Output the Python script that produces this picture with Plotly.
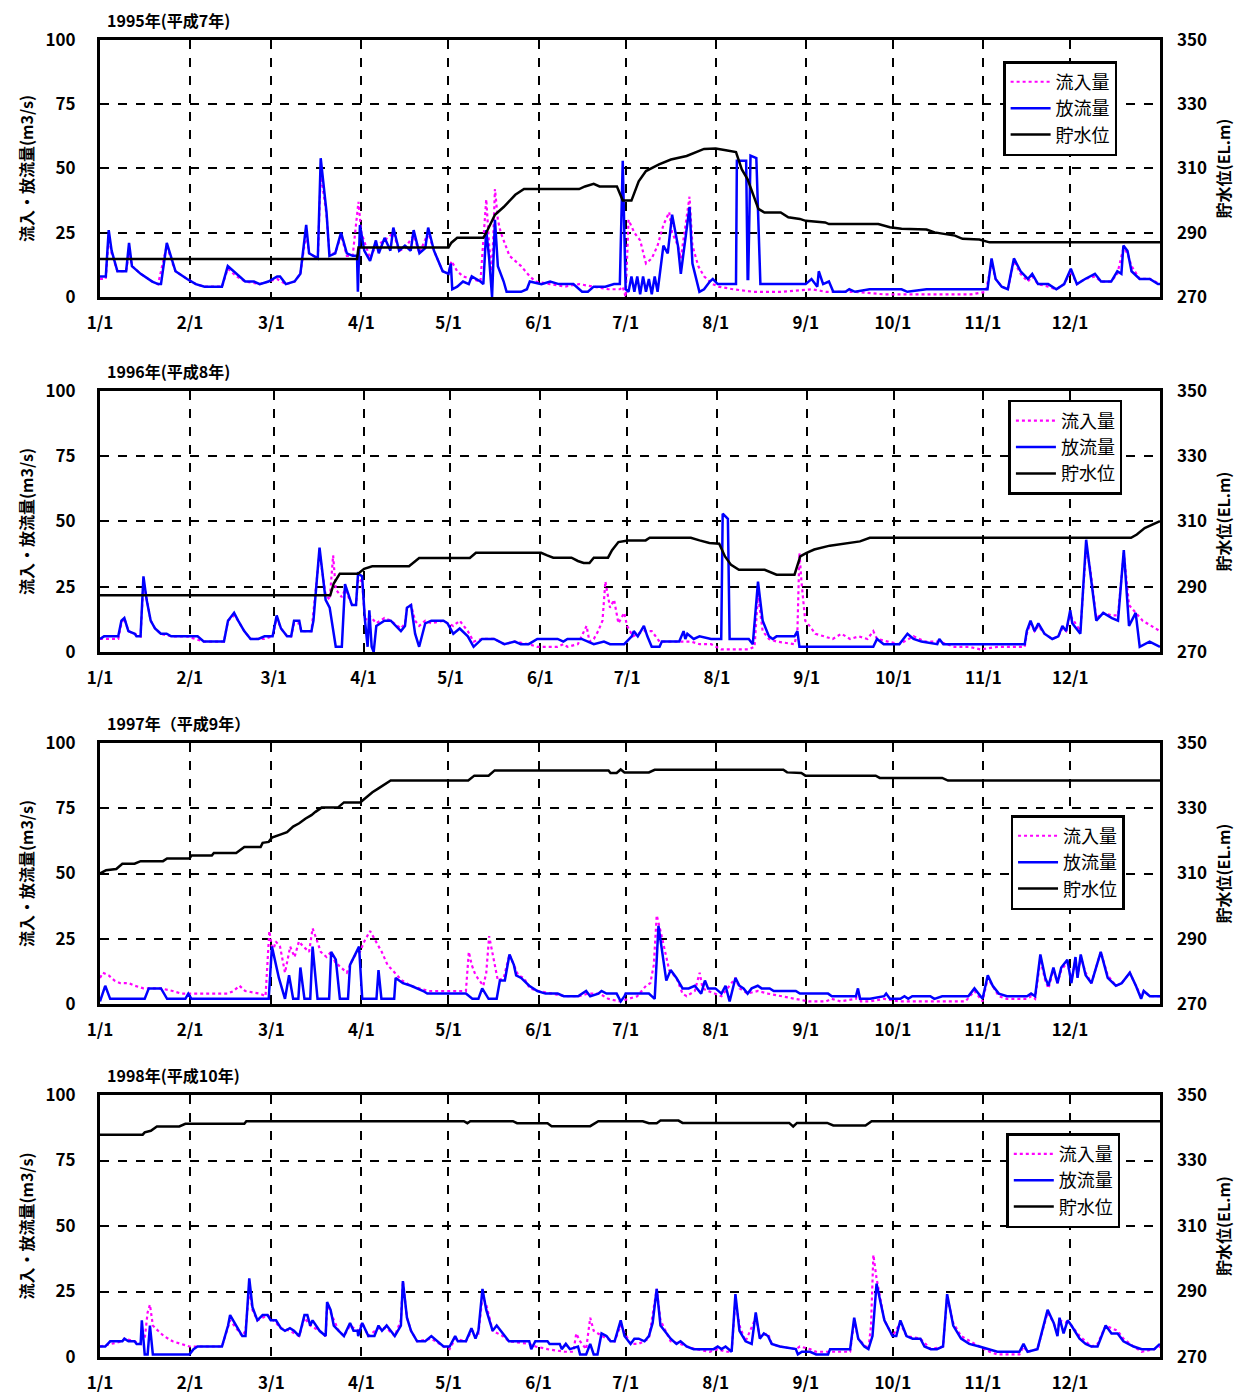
import plotly.graph_objects as go
from datetime import date

# 流入量 / 放流量 / 貯水位  -- (日, 値) の組で記録 (日 = 1/1 からの経過日数)
years = [1995, 1996, 1997, 1998]
titles = ["1995年(平成7年)", "1996年(平成8年)", "1997年（平成9年）", "1998年(平成10年)"]

# ---- 1995 ----
out_1995 = [(0, 8), (2, 8), (3, 26), (4, 18), (6, 10), (9, 10), (10, 21), (11, 12), (14, 9), (18, 6), (20, 5), (21, 5),
            (23, 21), (25, 14), (26, 10), (30, 7), (33, 5), (36, 4), (42, 4), (44, 12), (47, 9), (50, 6), (53, 6), (55, 5),
            (58, 6), (61, 8), (62, 8), (64, 5), (67, 6), (69, 9), (71, 28), (72, 17), (75, 15), (76, 54), (78, 33), (79, 16),
            (81, 17), (83, 25), (85, 17), (87, 16), (88.5, 16), (88.8, 2), (89.5, 28), (91, 18), (93, 14), (95, 22), (96, 17),
            (98, 23), (100, 18), (101, 27), (103, 18), (105, 20), (107, 18), (108, 26), (110, 17), (112, 19), (113, 27),
            (115, 18), (118, 10), (120, 9), (120.8, 13), (121.3, 3), (123, 4), (125, 6), (127, 5), (128, 8), (131, 6),
            (132, 5), (133, 26), (134, 15), (135, 0), (136, 30), (137, 12), (139, 6), (140, 2), (145, 2), (147, 3), (148, 6),
            (152, 5), (155, 6), (158, 5), (163, 5), (166, 2), (168, 2), (170, 4), (174, 4), (177, 5), (179, 5), (180, 53),
            (181, 3), (182, 2), (183, 8), (184, 2), (185, 8), (186, 1), (187, 8), (188, 2), (189, 7), (190, 1), (191, 8),
            (192, 2), (194, 20), (195.5, 17), (197, 32), (199, 20), (200, 9), (203, 35), (204, 13), (206.4, 2), (208, 3),
            (210, 6), (211, 7), (212.7, 5), (219, 5), (219.3, 53), (222.5, 53), (223, 7), (223.2, 7), (224, 55), (226, 54),
            (227.4, 5), (243, 5), (245, 7), (247, 4), (247.5, 10), (249, 5), (251, 6), (252.5, 2), (256.7, 2), (258, 3),
            (260, 2), (265, 3), (270.7, 3), (276, 3), (278, 2), (284.6, 3), (305.6, 3), (307, 15), (308.4, 7), (310.5, 4),
            (312.6, 3), (314.7, 15), (317, 10), (319.5, 7), (321, 9), (323, 5), (326.5, 5), (329.3, 3), (332, 5), (334.3, 11),
            (336.4, 5), (339.2, 7), (342.6, 9), (344.7, 6), (348.2, 6), (350.3, 10), (351.7, 9), (352.4, 20), (353.8, 18),
            (355.2, 10), (358, 7), (361.5, 7), (364.3, 5), (365, 5)]
in_1995 = [(0, 7), (2, 7), (3, 24), (4, 17), (6, 10), (9, 10), (10, 18), (11, 12), (14, 9), (18, 6), (20, 5), (23, 20),
           (25, 13), (26, 10), (30, 7), (33, 5), (36, 4), (42, 4), (44, 11), (47, 8), (50, 6), (55, 5), (58, 6), (61, 7),
           (64, 5), (67, 6), (69, 9), (71, 25), (72, 17), (75, 15), (76, 48), (78, 32), (79, 17), (81, 17), (83, 24), (85, 16),
           (87, 16), (89, 37), (90, 25), (93, 15), (95, 20), (98, 22), (101, 25), (103, 18), (105, 19), (108, 24), (110, 17),
           (113, 25), (115, 18), (118, 10), (120, 9), (121, 14), (123, 10), (125, 8), (128, 7), (131, 6), (133, 38), (134, 20),
           (135, 10), (136, 42), (137, 30), (138, 25), (141, 16), (145, 12), (148, 8), (150, 6), (155, 5), (160, 4), (165, 5),
           (170, 4), (175, 3), (179, 3), (180, 4), (181, 0), (182, 30), (184, 25), (186, 22), (188, 13), (190, 15), (192, 20),
           (194, 28), (196, 33), (197, 25), (199, 20), (200, 15), (203, 39), (204, 20), (206, 12), (208, 8), (211, 5), (213, 4),
           (218, 3), (225, 2), (235, 2), (245, 3), (250, 2), (260, 2), (270, 1), (280, 1), (290, 1), (300, 1), (305, 2),
           (307, 13), (308.4, 7), (310.5, 4), (312.6, 3), (314.7, 14), (317, 9), (319.5, 6), (321, 8), (323, 5), (326.5, 4),
           (329.3, 3), (332, 5), (334.3, 10), (336.4, 5), (339.2, 7), (342.6, 8), (344.7, 6), (348.2, 6), (350.3, 9),
           (352.4, 19), (353.8, 17), (355.2, 12), (358, 7), (361.5, 7), (365, 5)]
lvl_1995 = [(0, 281.8), (88.5, 281.8), (89, 285.4), (120, 285.4), (121, 286.9), (123, 288.4), (132, 288.4), (133, 290),
            (136, 295.6), (139, 298), (143, 301.8), (146, 303.6), (165, 303.6), (167, 304.4), (170, 305.2), (172, 304.4),
            (178, 304.4), (180, 300), (183, 300), (185.5, 306), (188, 309.2), (192.5, 311.3), (196.6, 312.8), (202, 313.9),
            (208, 316.1), (212, 316.2), (215.5, 315.7), (219, 315.1), (221, 309.7), (223, 306.6), (226.7, 297.4),
            (228.8, 296.3), (234.4, 296.3), (237, 294.8), (241, 294.3), (243, 293.7), (249.7, 293.2), (251, 292.7),
            (268, 292.7), (272, 291.7), (276, 291.2), (284.6, 291), (287.4, 290.1), (294.4, 289.1), (297, 288.1),
            (302.8, 287.9), (306.3, 287), (365, 287)]

# ---- 1996 ----
out_1996 = [(0, 5), (1.4, 6), (6.3, 6), (7.4, 12), (8.4, 13), (9.8, 8), (12, 7), (12.6, 6), (14, 6), (15, 29), (16.1, 20),
            (17.5, 12), (19, 9), (21, 7), (23, 7), (24.6, 6), (30, 6), (33.7, 6), (35.8, 4), (42.8, 4), (44.2, 12), (46.3, 15),
            (47.7, 12), (49.8, 8), (52, 5), (54.7, 5), (56.8, 6), (59.6, 6), (61, 14), (62.5, 9), (64.6, 6), (66, 6), (67, 12),
            (68.8, 12), (69.5, 8), (73, 8), (73.7, 12), (75.8, 40), (77.9, 20), (79.3, 17), (81.4, 2), (83.5, 2), (84.6, 26),
            (87, 18), (88.4, 18), (89.1, 30), (90.5, 29), (91.5, 12), (92.4, 2), (93, 16), (93.8, 2), (94.5, 0), (95.4, 10),
            (98.2, 12), (100.4, 12), (103.9, 8), (105.3, 10), (106, 17), (107.4, 18), (108.8, 7), (110.2, 2), (112.3, 11),
            (114.4, 12), (118.6, 12), (120, 11), (122, 7), (124.2, 9), (127, 6), (129, 2), (131.9, 5), (136.1, 5), (139.6, 3),
            (143.2, 4), (145.3, 3), (148, 3), (151, 5), (158, 5), (160, 4), (161.4, 5), (166.3, 5), (170.5, 3), (174, 4),
            (176.1, 3), (181, 3), (183.6, 6), (184.3, 8), (185.7, 6), (187.8, 10), (189, 6), (190.5, 2), (193.2, 2), (194, 4),
            (200, 4), (201.5, 8), (202.1, 5), (202.8, 7), (205, 5), (207, 6), (211, 5), (214.5, 5), (215, 53), (216.8, 51),
            (217.4, 5), (224, 5), (225.4, 3), (227.2, 27), (228.8, 12), (231, 6), (232.3, 5), (233.6, 6), (239.8, 6),
            (240.8, 8), (241.5, 2), (267, 2), (268.3, 5), (270.6, 3), (276, 3), (278.8, 7), (280.9, 5), (283.6, 4),
            (289.1, 3), (289.8, 5), (291.2, 3), (319.3, 3), (320, 8), (321.3, 12), (322.7, 8), (324, 11), (326.1, 7),
            (328.8, 5), (330.9, 6), (332.3, 10), (333.6, 8), (335, 16), (335.7, 11), (338.5, 7), (340.5, 43), (341.9, 30),
            (344, 12), (346.4, 15), (349.4, 13), (351.5, 12), (353.5, 39), (355.3, 10), (357.6, 15), (359, 2), (362.4, 4),
            (366, 2)]
in_1996 = [(0, 5), (1.4, 5), (6.3, 5), (7.4, 11), (8.4, 13), (9.8, 8), (12, 7), (14, 6), (15, 27), (16.1, 20), (17.5, 12),
           (19, 9), (21, 7), (24.6, 6), (30, 6), (35.8, 4), (42.8, 4), (44.2, 12), (46.3, 14), (47.7, 12), (49.8, 8), (52, 5),
           (56.8, 5), (59.6, 6), (61, 13), (62.5, 9), (64.6, 6), (66, 6), (67, 11), (68.8, 11), (69.5, 8), (73, 8), (73.7, 15),
           (75.8, 38), (77.9, 22), (79.3, 20), (80.5, 37), (81.4, 24), (83.5, 21), (84.6, 24), (87, 18), (88.4, 18),
           (89.1, 28), (90.5, 27), (91.5, 12), (93, 14), (95.4, 11), (98.2, 13), (100.4, 12), (103.9, 9), (105.3, 11),
           (106, 17), (107.4, 18), (108.8, 12), (110.2, 10), (112.3, 12), (114.4, 11), (118.6, 12), (120, 11), (122, 10),
           (124.2, 12), (127, 8), (129, 4), (131.9, 5), (136.1, 5), (139.6, 3), (143.2, 4), (148, 3), (151, 2), (158, 2),
           (160, 3), (161.4, 2), (165, 3), (168, 10), (169, 4), (170.5, 5), (172, 8), (173.5, 12), (174.5, 27), (176.1, 17),
           (177.5, 20), (179, 11), (181, 15), (182, 10), (184, 6), (187.8, 8), (190.5, 8), (193.2, 4), (200, 4), (204, 4),
           (207, 3), (211, 3), (214.5, 1), (224, 1), (226, 2), (227.2, 22), (228.8, 8), (231, 5), (233.6, 4), (239.8, 3),
           (240.8, 8), (241.5, 38), (242.2, 27), (243.5, 12), (245, 10), (247, 7), (250, 6), (253, 5), (256, 7), (259, 5),
           (262, 6), (265, 5), (267, 8), (268.3, 5), (272, 4), (276, 3), (280.9, 6), (285, 4), (289.8, 4), (295, 2),
           (300, 2), (304, 1), (310, 2), (319.3, 2), (320, 7), (321.3, 11), (322.7, 8), (324, 10), (326.1, 7), (328.8, 5),
           (330.9, 6), (332.3, 9), (333.6, 8), (335, 14), (338.5, 8), (340.5, 40), (341.9, 32), (344, 13), (346.4, 15),
           (349.4, 14), (351.5, 14), (353.5, 38), (355.3, 18), (357.6, 15), (360, 12), (363, 10), (366, 8)]
lvl_1996 = [(0, 287.4), (79.5, 287.4), (80.7, 291), (82.8, 294), (89.1, 294), (91.2, 295.5), (94, 296.3), (106.7, 296.3),
            (110.2, 298.8), (127.7, 298.8), (129.8, 300.4), (152.3, 300.4), (154.4, 299.6), (156.5, 298.9), (162.8, 298.9),
            (165, 297.9), (167, 297.3), (169, 297.3), (170.5, 298.9), (175.4, 298.9), (176.8, 301.2), (179, 303.7),
            (182.3, 304.2), (188.4, 304.2), (189.8, 305), (204, 305), (207, 304.2), (210.4, 303.4), (213.8, 303.2),
            (215.8, 299.3), (217.9, 296.7), (220.6, 295.2), (229.5, 295.2), (230.9, 294.7), (233.6, 293.7), (239.8, 293.7),
            (241.8, 299.3), (243.8, 300.3), (246.6, 301.4), (252, 302.6), (259, 303.4), (262.4, 303.9), (265.8, 305),
            (356, 305), (358, 306), (360.7, 308), (366, 310.1)]

# ---- 1997 ----
out_1997 = [(0, 1), (1.8, 7), (3.5, 2), (15.4, 2), (16.8, 6), (21, 6), (23.1, 2), (29.4, 2), (30.4, 4), (31.5, 2), (58.1, 2),
            (59.2, 22), (61.6, 10), (63.7, 2), (65.1, 11), (66.5, 2), (68.3, 2), (69, 14), (70.4, 2), (72.4, 2), (73.2, 22),
            (74.9, 2), (78.9, 2), (79.6, 20), (81.2, 17), (82.6, 2), (85.4, 2), (86.1, 15), (89.2, 22), (90.3, 2), (95.2, 2),
            (95.9, 13), (96.9, 2), (101.3, 2), (101.8, 10), (104.3, 8), (107.1, 7), (109.2, 6), (111.3, 5), (112.7, 4),
            (126, 4), (128.2, 2), (130.3, 2), (131.6, 6), (133.8, 2), (136.6, 2), (137.7, 9), (139.4, 9), (141, 19),
            (142.5, 15), (143.3, 11), (145, 10), (147.8, 7), (150.6, 5), (153.4, 4), (157.6, 4), (159.7, 3), (164.6, 3),
            (167.4, 5), (168.8, 3), (171.6, 4), (172.7, 5), (174.4, 4), (177.9, 4), (179.3, 1), (180.6, 3), (181, 4), (189, 4),
            (191, 2), (192.3, 30), (193.7, 18), (195, 9), (196.5, 13), (198.5, 10), (200.6, 6), (202.7, 6), (204.8, 7),
            (207, 4), (208.3, 9), (209.4, 6), (211.9, 6), (214, 4), (215.4, 7), (216.8, 1), (218.8, 10), (220.2, 7),
            (221.6, 6), (223, 4), (224.4, 6), (226.5, 7), (227.8, 6), (230.6, 6), (232, 5), (239.6, 5), (241, 4), (250.7, 4),
            (252, 3), (260.3, 3), (261, 6), (261.7, 2), (265.2, 2), (270, 3), (270.7, 4), (272, 2), (275.6, 2), (277, 3),
            (278.3, 2), (279.7, 3), (285.9, 3), (287.3, 2), (290, 3), (299, 3), (301.1, 6), (303.9, 2), (305.7, 11),
            (307.4, 7), (309.5, 4), (312.3, 3), (319.2, 3), (320.6, 4), (322, 3), (323.8, 19), (325.5, 10), (326.6, 7),
            (328.3, 14), (329.7, 8), (331, 14), (333.1, 17), (334.5, 8), (335.9, 18), (336.6, 10), (337.7, 19), (339.4, 11),
            (341.4, 8), (344.6, 20), (347, 10), (349.8, 7), (351.8, 8), (354.6, 12), (356.7, 7), (358.5, 2), (359.4, 5),
            (361.5, 3), (365, 3)]
in_1997 = [(0, 10), (1, 12), (3, 11), (5, 9), (7, 8), (10, 8), (12, 7), (15, 6), (18, 6), (21, 6), (25, 5), (28, 4), (32, 4),
           (38, 4), (44, 4), (46, 5), (48, 7), (50, 5), (55, 4), (57, 3), (58.3, 28), (59.5, 20), (60.5, 24), (62, 22),
           (63.7, 12), (65.5, 22), (67, 18), (68.5, 24), (70, 22), (72, 20), (73.2, 29), (74.5, 25), (76, 20), (78, 18),
           (79.6, 20), (81, 16), (83, 14), (85, 12), (86.5, 16), (88, 19), (89.5, 20), (91, 24), (93, 28), (95, 24), (97, 20),
           (99, 15), (101.5, 12), (104, 9), (107, 7), (110, 6), (113, 5), (120, 5), (126, 5), (127, 20), (128, 15), (129, 12),
           (130, 10), (132, 7), (133, 12), (134, 26), (135, 20), (136, 15), (137, 9), (139, 10), (141, 19), (142.5, 15),
           (144, 11), (146, 10), (148, 6), (151, 5), (155, 4), (160, 3), (165, 3), (168, 4), (172, 4), (175, 2), (179, 1),
           (182, 2), (185, 3), (188, 7), (189.5, 8), (190.7, 15), (191.7, 34), (193, 28), (194.5, 20), (196, 13), (198.5, 10),
           (200.6, 4), (202, 3), (204.8, 5), (206.5, 12), (207.5, 6), (209.4, 5), (212, 4), (214, 3), (218.8, 10), (220.2, 6),
           (223, 4), (226.5, 5), (230, 4), (235, 3), (240, 2), (244, 1), (250, 1), (252, 2), (255, 1), (260.3, 2), (261, 5),
           (262, 1), (265, 1), (270, 2), (275, 1), (280, 1), (290, 1), (298, 1), (301.1, 5), (303.9, 1), (305.7, 10),
           (307.4, 7), (309.5, 3), (312.3, 2), (319.2, 2), (320.6, 3), (322, 2), (323.8, 17), (325.5, 9), (326.6, 6),
           (328.3, 13), (329.7, 8), (331, 13), (333.1, 16), (334.5, 9), (335.9, 17), (336.6, 10), (337.7, 18), (339.4, 12),
           (341.4, 8), (344.6, 20), (347, 11), (349.8, 7), (351.8, 8), (354.6, 12), (356.7, 7), (358.5, 3), (359.4, 5),
           (361.5, 3), (365, 3)]
lvl_1997 = [(0, 310), (2.1, 311), (5.6, 311.4), (7.7, 313), (11.9, 313), (14, 313.8), (21.7, 313.8), (23.1, 314.6),
            (30.8, 314.6), (31.5, 315.5), (38.5, 315.5), (39.2, 316.3), (46.9, 316.3), (48.3, 317.2), (49.7, 318.1),
            (55.3, 318.1), (56, 319.4), (58.1, 319.7), (59.2, 321), (62.3, 322), (64.4, 322.7), (66.5, 324.4), (68.6, 325.4),
            (70.7, 326.8), (72.8, 327.9), (74.2, 328.9), (76.3, 330.2), (81.9, 330.2), (84, 331.8), (89.6, 331.8),
            (91.7, 333.3), (93.8, 334.9), (95.9, 336.1), (98, 337.4), (100.1, 338.5), (126.8, 338.5), (128.9, 340),
            (133.8, 340), (135.9, 341.6), (175.1, 341.6), (175.8, 340.8), (177.9, 340.8), (179.3, 341.9), (180.6, 341),
            (189, 341), (191, 341.8), (235.3, 341.8), (236.6, 341), (241.5, 340.8), (242.9, 340), (267.1, 340),
            (268.5, 339.3), (290, 339.3), (292, 338.5), (365, 338.5)]

# ---- 1998 ----
out_1998 = [(0, 4), (1.8, 4), (3.5, 6), (7.7, 6), (8.4, 7), (9.8, 6), (11.9, 6), (12.6, 5), (14, 5), (14.4, 14), (15.4, 1),
            (16.4, 1), (17.2, 12), (18.2, 1), (30.8, 1), (32.2, 3), (33.6, 4), (42, 4), (44.1, 12), (44.8, 16), (46.9, 12),
            (49, 8), (50.1, 8), (51.4, 30), (52.5, 19), (54.2, 14), (56, 16), (57.7, 16), (58.8, 14), (60.6, 14), (62.3, 11),
            (63.7, 10), (65.4, 11), (66.8, 10), (68.6, 8), (70.4, 16), (71.4, 16), (72.4, 12), (73.2, 14), (75.6, 10),
            (77.7, 8), (78.2, 21), (79.4, 18), (80.5, 12), (82.2, 10), (84, 8), (86.1, 13), (87.3, 10), (88.7, 10), (88.9, 8),
            (90.3, 13), (92.4, 8), (94.5, 8), (95.9, 12), (97.1, 10), (98.7, 12), (100.1, 10), (101.5, 8), (103.6, 12),
            (104.3, 29), (105.7, 15), (107.1, 10), (109.2, 6), (112, 6), (114.1, 8), (116.2, 6), (118.3, 4), (120.4, 4),
            (122.3, 8), (123.2, 6), (126, 6), (127.9, 11), (129.3, 7), (130.3, 10), (131.7, 26), (133, 18), (135.2, 10),
            (136.6, 12), (138.7, 9), (140.8, 6), (143.6, 6), (147.8, 6), (148.5, 3), (149.9, 6), (154.1, 6), (154.8, 5),
            (158.3, 5), (159, 3), (160.4, 5), (161.8, 3), (164.6, 4), (165.3, 1), (167.4, 1), (168.8, 5), (170, 1),
            (171.3, 1), (172.7, 9), (174.4, 8), (175.8, 6), (177.2, 6), (179.3, 14), (180.6, 8), (182.7, 5), (184, 7),
            (185.5, 7), (187.5, 6), (189, 8), (190.3, 13), (191.7, 26), (193, 12), (194.4, 10), (196.5, 7), (198.5, 5),
            (199.9, 6), (202, 4), (204.4, 3), (208, 3), (211.3, 3), (212.7, 4), (214, 3), (215.4, 4), (217.5, 2),
            (218.8, 24), (220.2, 10), (222.3, 6), (224.4, 5), (225.8, 17), (227.2, 7), (228.6, 9), (230, 8), (231.3, 5),
            (234.1, 4), (239.6, 3), (240.3, 1), (241.7, 2), (244.5, 2), (246.6, 1), (250.7, 1), (251.4, 3), (258.3, 3),
            (259.7, 15), (261.1, 7), (263.2, 4), (264.6, 3), (266, 8), (267.4, 28), (270.1, 14), (272.9, 8), (274.2, 8),
            (275.6, 14), (277, 10), (277.7, 8), (279.8, 7), (282.5, 7), (283.9, 4), (286.1, 3), (288.2, 3), (290.3, 4),
            (291.7, 24), (293.8, 12), (296.5, 7), (299.3, 5), (302.8, 4), (306.3, 3), (309, 2), (316.6, 2), (318, 5),
            (319.4, 2), (322.8, 3), (326.3, 18), (328.4, 13), (329.7, 8), (330.4, 15), (331.8, 9), (333.2, 14), (334.5, 12),
            (337.3, 7), (339.4, 5), (341.4, 4), (343.5, 4), (346.3, 12), (348.3, 9), (350.4, 9), (352.4, 6), (355.9, 4),
            (358.7, 3), (363, 3), (365, 5)]
in_1998 = [(0, 4), (3.5, 5), (7.7, 6), (8.4, 7), (11.9, 6), (14, 5), (14.4, 10), (15.4, 7), (16.4, 17), (17.2, 20),
           (18.2, 12), (20, 10), (22, 8), (25, 6), (28, 5), (30.8, 4), (33.6, 4), (42, 4), (44.8, 14), (46.9, 11), (49, 8),
           (50.1, 10), (51.4, 26), (52.5, 18), (54.2, 14), (56, 15), (57.7, 16), (60.6, 13), (62.3, 11), (65.4, 10),
           (68.6, 8), (70.4, 15), (72.4, 12), (75.6, 10), (77.7, 8), (78.2, 20), (79.4, 17), (82.2, 10), (84, 8), (86.1, 12),
           (88.7, 10), (90.3, 13), (92.4, 8), (95.9, 11), (98.7, 11), (101.5, 8), (103.6, 14), (104.3, 29), (105.7, 15),
           (107.1, 10), (109.2, 6), (114.1, 7), (118.3, 4), (120.4, 3), (122.3, 7), (126, 6), (127.9, 10), (130.3, 9),
           (131.7, 23), (133, 20), (135.2, 10), (138.7, 8), (140.8, 6), (147.8, 5), (150, 4), (154.1, 3), (160, 2),
           (163, 2), (164, 9), (165.3, 6), (167.4, 3), (168.8, 15), (170, 10), (172.7, 8), (174.4, 7), (177.2, 6),
           (179.3, 12), (182.7, 5), (185.5, 5), (189, 7), (191.7, 26), (193, 14), (196.5, 6), (199.9, 5), (202, 4),
           (205, 3), (210, 2), (212.7, 3), (215.4, 2), (217.5, 2), (218.8, 22), (220.2, 12), (222.3, 6), (225.8, 15),
           (227.2, 8), (230, 9), (231.3, 5), (234.1, 4), (239.6, 3), (241, 4), (244.5, 3), (246.6, 2), (250.7, 2),
           (258.3, 2), (259.7, 14), (261.1, 7), (264.6, 3), (265.5, 12), (266.3, 39), (267.4, 30), (270.1, 14), (272.9, 8),
           (275.6, 13), (277.7, 8), (282.5, 7), (286.1, 3), (290.3, 4), (291.7, 23), (293.8, 13), (296.5, 8), (302.8, 4),
           (306.3, 2), (309, 1), (316.6, 1), (318, 4), (319.4, 2), (322.8, 3), (326.3, 17), (328.4, 13), (329.7, 9),
           (330.4, 14), (333.2, 13), (334.5, 12), (337.3, 8), (341.4, 4), (343.5, 5), (346.3, 12), (350.4, 10), (352.4, 7),
           (355.9, 4), (358.7, 2), (363, 3), (365, 4)]
lvl_1998 = [(0, 337.9), (14.7, 337.9), (15.4, 338.6), (17.5, 339.1), (19.6, 340.4), (27.3, 340.4), (29.4, 341.2),
            (49.7, 341.2), (50.4, 342), (125.3, 342), (126.5, 341.4), (127.5, 342), (142.2, 342), (143.6, 341.4),
            (154.1, 341.4), (155.5, 340.5), (168.8, 340.5), (171.6, 342), (186.9, 342), (189, 341.4), (191.7, 341.4),
            (193, 342.2), (199.2, 342.2), (200.6, 341.5), (237.3, 341.5), (238.7, 340.4), (240, 341.5), (250.4, 341.5),
            (252.5, 340.7), (263.6, 340.7), (265.7, 342), (365, 342)]

inflows = [in_1995, in_1996, in_1997, in_1998]
outflows = [out_1995, out_1996, out_1997, out_1998]
levels = [lvl_1995, lvl_1996, lvl_1997, lvl_1998]

# 各パネルの縦位置 (paper 座標) と凡例位置
domains = [[0.8049, 1.0], [0.5353, 0.7335], [0.268, 0.4662], [0.0, 0.1989]]
legend_pos = [(0.852, 0.984), (0.857, 0.7267), (0.859, 0.4115), (0.855, 0.170)]

FONT = "Noto Sans CJK JP"
tick_font = dict(family=FONT, size=17, color="black", weight="bold")
title_font = dict(family=FONT, size=16, color="black", weight="bold")

fig = go.Figure()
layout = {}
annotations = []

for i, yr in enumerate(years):
    n = i + 1
    xa = "x" if n == 1 else f"x{n}"
    ya = f"y{n}"
    yr2 = f"y{n + 4}"
    lg = "legend" if n == 1 else f"legend{n}"

    month_starts = [(date(yr, m, 1) - date(yr, 1, 1)).days for m in range(1, 13)]
    ndays = (date(yr + 1, 1, 1) - date(yr, 1, 1)).days

    d, v = zip(*inflows[i])
    fig.add_trace(go.Scatter(x=d, y=v, xaxis=xa, yaxis=ya, mode="lines", name="流入量", legend=lg,
                             line=dict(color="#FF00FF", width=2.2, dash="dot")))
    d, v = zip(*outflows[i])
    fig.add_trace(go.Scatter(x=d, y=v, xaxis=xa, yaxis=ya, mode="lines", name="放流量", legend=lg,
                             line=dict(color="#0000FF", width=2.5)))
    d, v = zip(*levels[i])
    fig.add_trace(go.Scatter(x=d, y=v, xaxis=xa, yaxis=yr2, mode="lines", name="貯水位", legend=lg,
                             line=dict(color="black", width=2.5)))

    layout[f"xaxis{n}"] = dict(
        domain=[0, 1], anchor=ya, range=[0, ndays], automargin=False,
        tickvals=month_starts, ticktext=[f"{m}/1" for m in range(1, 13)],
        showgrid=True, gridcolor="black", griddash="dash", gridwidth=2,
        showline=True, mirror=True, linecolor="black", linewidth=3,
        zeroline=False, ticks="", ticklabelstandoff=9, tickfont=tick_font,
    )
    layout[f"yaxis{n}"] = dict(
        domain=domains[i], anchor=xa, range=[0, 100], tickvals=[0, 25, 50, 75, 100], automargin=False,
        showgrid=True, gridcolor="black", griddash="dash", gridwidth=1.5,
        showline=True, mirror=True, linecolor="black", linewidth=3,
        zeroline=False, ticks="", ticklabelstandoff=18, tickfont=tick_font,
        title=dict(text="流入・放流量(m3/s)", standoff=8, font=title_font),
    )
    layout[f"yaxis{n + 4}"] = dict(
        overlaying=ya, anchor=xa, side="right", range=[270, 350], tickvals=[270, 290, 310, 330, 350],
        automargin=False, showgrid=False, zeroline=False, showline=False, ticks="", ticklabelstandoff=16,
        tickfont=tick_font,
        title=dict(text="貯水位(EL.m)", standoff=12, font=title_font),
    )
    lx, ly = legend_pos[i]
    layout[lg] = dict(
        x=lx, y=ly, xanchor="left", yanchor="top", bgcolor="white",
        bordercolor="black", borderwidth=2.5, tracegroupgap=0, itemwidth=40,
        font=dict(family=FONT, size=18, color="black"),
    )
    annotations.append(dict(
        text=titles[i], xref="paper", yref="paper", x=0.005, y=domains[i][1],
        xanchor="left", yanchor="bottom", yshift=6, showarrow=False,
        font=dict(family=FONT, size=16, color="black", weight="bold"),
    ))

# ページ本体の既定余白 (約 8px) を見込んで、図の大きさと余白を調整
fig.update_layout(
    width=1234, height=1392,
    margin=dict(l=92, r=82, t=32, b=43, autoexpand=False),
    plot_bgcolor="white", paper_bgcolor="white",
    showlegend=True, annotations=annotations,
    **layout,
)

fig.write_html("out.html")
